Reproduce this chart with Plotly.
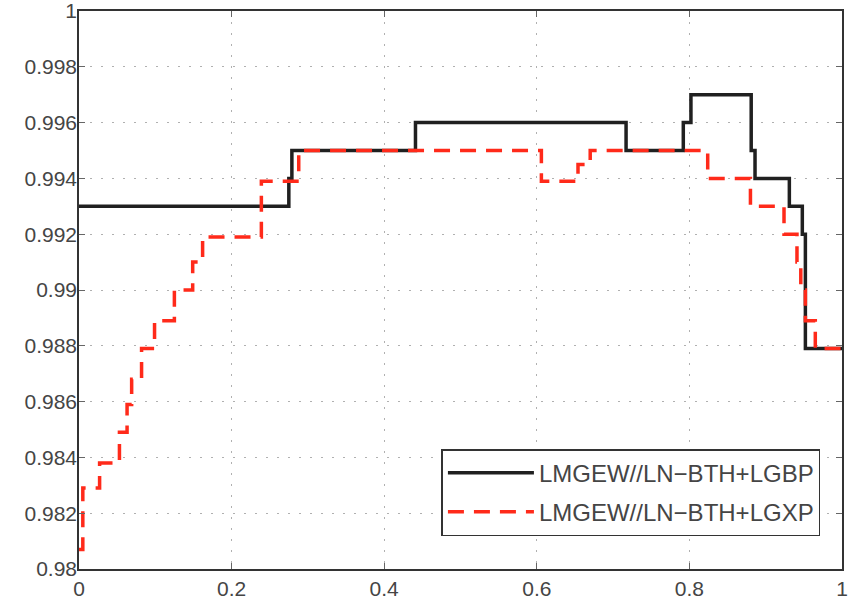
import plotly.graph_objects as go

# LMGEW//LN-BTH+LGBP (solid black) step points
x_lgbp = [0.0, 0.275, 0.279, 0.441, 0.717, 0.792, 0.802, 0.881, 0.886, 0.931, 0.948, 0.952, 1.0]
y_lgbp = [0.9930, 0.9940, 0.9950, 0.9960, 0.9950, 0.9960, 0.9970, 0.9950, 0.9940, 0.9930, 0.9920, 0.9879, 0.9879]

# LMGEW//LN-BTH+LGXP (dashed red) step points
x_lgxp = [0.0, 0.005, 0.027, 0.053, 0.063, 0.069, 0.082, 0.099, 0.125, 0.149, 0.162, 0.239, 0.288,
          0.606, 0.654, 0.670, 0.824, 0.880, 0.924, 0.941, 0.946, 0.952, 0.965, 1.0]
y_lgxp = [0.9807, 0.9829, 0.9838, 0.9849, 0.9859, 0.9868, 0.9879, 0.9889, 0.9900, 0.9910, 0.9919, 0.9939, 0.9950,
          0.9939, 0.9945, 0.9950, 0.9940, 0.9930, 0.9920, 0.9910, 0.9900, 0.9889, 0.9879, 0.9879]

x_ticks = [0, 0.2, 0.4, 0.6, 0.8, 1]
x_ticklabels = ["0", "0.2", "0.4", "0.6", "0.8", "1"]
y_ticks = [0.98, 0.982, 0.984, 0.986, 0.988, 0.99, 0.992, 0.994, 0.996, 0.998, 1.0]
y_ticklabels = ["0.98", "0.982", "0.984", "0.986", "0.988", "0.99", "0.992", "0.994", "0.996", "0.998", "1"]

series_names = ["LMGEW//LN\u2212BTH+LGBP", "LMGEW//LN\u2212BTH+LGXP"]

FONT = "Liberation Sans, Arial, Helvetica, sans-serif"

fig = go.Figure()
fig.add_trace(go.Scatter(x=x_lgbp, y=y_lgbp, mode="lines", line_shape="hv", legendgroup="a",
                         line=dict(color="#202020", width=3.5), name=series_names[0]))
fig.add_trace(go.Scatter(x=x_lgxp, y=y_lgxp, mode="lines", line_shape="hv", legendgroup="b",
                         line=dict(color="#ff2a1a", width=3.5, dash="16px,10px"), name=series_names[1]))

axis_common = dict(showline=True, linecolor="#333333", linewidth=1.5, mirror="ticks",
                   ticks="inside", ticklen=6, tickcolor="#666666",
                   showgrid=True, gridcolor="#b0b0b0", griddash="2px,9px", gridwidth=1.3,
                   zeroline=False, ticklabeloverflow="allow", automargin=False,
                   tickfont=dict(family=FONT, size=21, color="#454545"))

fig.update_xaxes(range=[0, 1], tickvals=x_ticks, ticktext=x_ticklabels, **axis_common)
fig.update_yaxes(range=[0.98, 1.0], tickvals=y_ticks, ticktext=y_ticklabels,
                 ticklabelstandoff=-4, **axis_common)

fig.update_layout(
    width=849, height=601,
    margin=dict(l=79, r=7, t=11, b=32, autoexpand=False),
    plot_bgcolor="white", paper_bgcolor="white",
    font=dict(family=FONT, size=21, color="#454545"),
    legend=dict(x=0.475, y=0.215, xanchor="left", yanchor="top",
                bgcolor="white", bordercolor="#333333", borderwidth=1.5,
                font=dict(family=FONT, size=24, color="#454545"), tracegroupgap=5,
                itemwidth=86),
)

fig.write_html("out.html")
